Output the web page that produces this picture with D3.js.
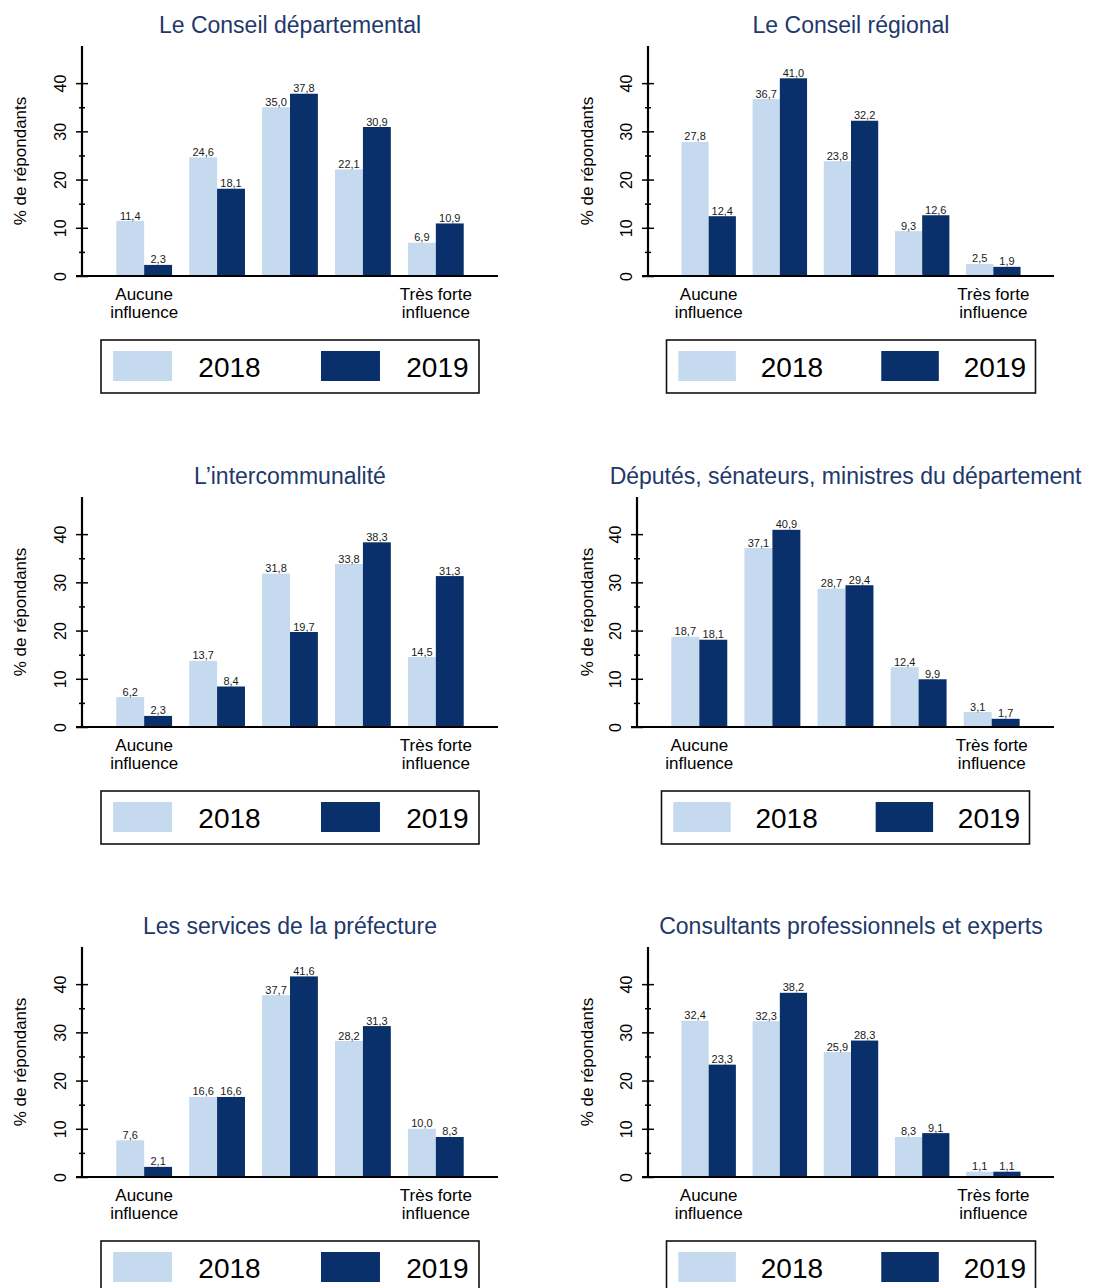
<!DOCTYPE html>
<html>
<head>
<meta charset="utf-8">
<script src="https://cdn.jsdelivr.net/npm/d3@7"></script>
<style>
  body { margin: 0; background: #ffffff; }
  svg { display: block; font-family: "Liberation Sans", Arial, sans-serif; }
</style>
</head>
<body>
<svg id="chart" width="1096" height="1288"></svg>
<script>
// ---------- DATA ----------
const categories = ["1", "2", "3", "4", "5"];
const categoryTickLabels = [["Aucune", "influence"], [], [], [], ["Très forte", "influence"]];
const years = ["2018", "2019"];
const yTicksMajor = [0, 10, 20, 30, 40];
const yTicksMinor = [5, 15, 25, 35];
const yAxisTitle = "% de répondants";

const panelTitles = [
  "Le Conseil départemental",
  "Le Conseil régional",
  "L\u2019intercommunalité",
  "Députés, sénateurs, ministres du département",
  "Les services de la préfecture",
  "Consultants professionnels et experts"
];

const conseilDep2018 = [11.4, 24.6, 35.0, 22.1, 6.9];
const conseilDep2019 = [2.3, 18.1, 37.8, 30.9, 10.9];
const conseilReg2018 = [27.8, 36.7, 23.8, 9.3, 2.5];
const conseilReg2019 = [12.4, 41.0, 32.2, 12.6, 1.9];
const intercom2018 = [6.2, 13.7, 31.8, 33.8, 14.5];
const intercom2019 = [2.3, 8.4, 19.7, 38.3, 31.3];
const deputes2018 = [18.7, 37.1, 28.7, 12.4, 3.1];
const deputes2019 = [18.1, 40.9, 29.4, 9.9, 1.7];
const prefecture2018 = [7.6, 16.6, 37.7, 28.2, 10.0];
const prefecture2019 = [2.1, 16.6, 41.6, 31.3, 8.3];
const consultants2018 = [32.4, 32.3, 25.9, 8.3, 1.1];
const consultants2019 = [23.3, 38.2, 28.3, 9.1, 1.1];

const panelSeries = [
  [conseilDep2018, conseilDep2019],
  [conseilReg2018, conseilReg2019],
  [intercom2018, intercom2019],
  [deputes2018, deputes2019],
  [prefecture2018, prefecture2019],
  [consultants2018, consultants2019]
];

// ---------- LAYOUT / STYLE ----------
const colors = { "2018": "#c5d9ef", "2019": "#0a306b" };
const titleColor = "#22386a";
const rowOffsets = [0, 451, 901];
const layout = [
  { ax: 82,  end: 498,  row: 0, yTitleX: 20.5,  legendW: 378 },
  { ax: 648, end: 1054, row: 0, yTitleX: 587.5, legendW: 369 },
  { ax: 82,  end: 498,  row: 1, yTitleX: 20.5,  legendW: 378 },
  { ax: 637, end: 1054, row: 1, yTitleX: 587.5, legendW: 368 },
  { ax: 82,  end: 498,  row: 2, yTitleX: 20.5,  legendW: 378 },
  { ax: 648, end: 1054, row: 2, yTitleX: 587.5, legendW: 369 }
];
const plotTop = 46, plotBase = 276, yMaxDomain = 47.7;

const svg = d3.select("#chart");
const fmt = v => d3.format(".1f")(v).replace(".", ",");

layout.forEach((L, i) => {
  const off = rowOffsets[L.row];
  const g = svg.append("g").attr("transform", `translate(0,${off})`);
  const base = plotBase, top = plotTop;

  const y = d3.scaleLinear().domain([0, yMaxDomain]).range([base, top]);
  const x0 = d3.scaleBand().domain(categories).range([L.ax, L.end])
    .paddingInner(0.235).paddingOuter(0.47);
  const x1 = d3.scaleBand().domain(years).range([0, x0.bandwidth()]).padding(0);

  // Title
  g.append("text")
    .attr("x", (L.ax + L.end) / 2).attr("y", 33)
    .attr("text-anchor", "middle")
    .attr("font-size", 23).attr("fill", titleColor)
    .text(panelTitles[i]);

  // Bars
  const series = panelSeries[i];
  const groups = g.selectAll(".grp").data(categories).join("g")
    .attr("transform", c => `translate(${x0(c)},0)`);
  groups.each(function(c, ci) {
    const gg = d3.select(this);
    years.forEach((yr, yi) => {
      const v = series[yi][ci];
      gg.append("rect")
        .attr("x", x1(yr)).attr("y", y(v))
        .attr("width", x1.bandwidth()).attr("height", y(0) - y(v))
        .attr("fill", colors[yr]);
      gg.append("text")
        .attr("x", x1(yr) + x1.bandwidth() / 2).attr("y", y(v) - 1.5)
        .attr("text-anchor", "middle").attr("font-size", 11).attr("fill", "#1a1a1a")
        .text(fmt(v));
    });
  });

  // Y axis (major ticks)
  const yAxis = d3.axisLeft(y).tickValues(yTicksMajor).tickSize(6).tickFormat(d3.format("d"));
  const ya = g.append("g").attr("transform", `translate(${L.ax},0)`).call(yAxis);
  ya.select(".domain").remove();
  ya.selectAll(".tick line").attr("x1", 6).attr("x2", -6).attr("stroke", "#000").attr("stroke-width", 1.5);
  ya.selectAll(".tick text")
    .attr("x", 0).attr("dy", "0.35em")
    .attr("transform", "translate(-21.5,0) rotate(-90)")
    .attr("text-anchor", "middle")
    .attr("font-size", 16).attr("fill", "#000")
    .attr("font-family", "\"Liberation Sans\", Arial, sans-serif");

  // minor ticks
  const yMinor = d3.axisLeft(y).tickValues(yTicksMinor).tickSize(3).tickFormat("");
  const ym = g.append("g").attr("transform", `translate(${L.ax},0)`).call(yMinor);
  ym.select(".domain").remove();
  ym.selectAll(".tick line").attr("x1", 3).attr("x2", -3).attr("stroke", "#000").attr("stroke-width", 1.5);

  // axis lines
  g.append("line").attr("x1", L.ax).attr("x2", L.ax).attr("y1", top).attr("y2", base + 1)
    .attr("stroke", "#000").attr("stroke-width", 2.2);
  g.append("line").attr("x1", L.ax - 6).attr("x2", L.end).attr("y1", base).attr("y2", base)
    .attr("stroke", "#000").attr("stroke-width", 2.2);

  // Y axis title
  g.append("text")
    .attr("transform", `translate(${L.yTitleX},${(top + base) / 2}) rotate(-90)`)
    .attr("dy", "0.35em").attr("text-anchor", "middle")
    .attr("font-size", 17).attr("fill", "#000")
    .text(yAxisTitle);

  // Category labels
  categories.forEach((c, ci) => {
    const lines = categoryTickLabels[ci];
    lines.forEach((ln, li) => {
      g.append("text")
        .attr("x", x0(c) + x0.bandwidth() / 2).attr("y", base + 24 + li * 18)
        .attr("text-anchor", "middle").attr("font-size", 17).attr("fill", "#000")
        .text(ln);
    });
  });

  // Legend
  const lw = L.legendW, lh = 53;
  const lx = (L.ax + L.end) / 2 - lw / 2, ly = base + 64;
  const lg = g.append("g").attr("transform", `translate(${lx},${ly})`);
  lg.append("rect").attr("width", lw).attr("height", lh)
    .attr("fill", "none").attr("stroke", "#111").attr("stroke-width", 1.6);
  const swX = [0.032, 0.582], txX = [0.34, 0.89];
  years.forEach((yr, yi) => {
    lg.append("rect").attr("x", swX[yi] * lw).attr("y", 11)
      .attr("width", 0.156 * lw).attr("height", 30).attr("fill", colors[yr]);
    lg.append("text").attr("x", txX[yi] * lw).attr("y", 37)
      .attr("text-anchor", "middle").attr("font-size", 28).attr("fill", "#000")
      .text(yr);
  });
});
</script>
</body>
</html>
